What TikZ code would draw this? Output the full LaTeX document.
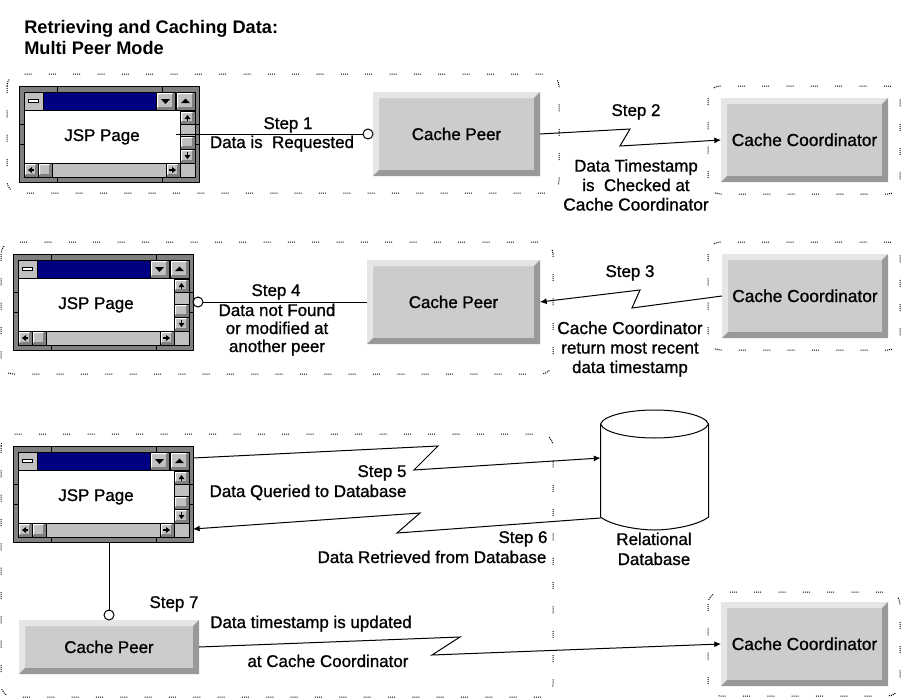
\documentclass[tikz,border=0pt]{standalone}
\usepackage{fontspec}
\setmainfont{Liberation Sans}
\newfontfamily\labfont{Liberation Sans}[FakeBold=1]
\usetikzlibrary{arrows.meta,calc}
\definecolor{winblue}{HTML}{000080}
\definecolor{wingray}{HTML}{C0C0C0}
\definecolor{windark}{HTML}{808080}
\definecolor{bvface}{HTML}{CCCCCC}
\definecolor{bvlight}{HTML}{E6E6E6}
\definecolor{bvdark}{HTML}{999999}
\newcommand{\ccname}{{\fontsize{13}{14.6}\selectfont Cache Coordinator}}
\tikzset{
  x=0.75pt,y=-0.75pt,
  lab/.style={font=\labfont\fontsize{12.7}{14.6}\selectfont,align=center,inner sep=0pt,outer sep=0pt},
  one/.style={lab,text height=9pt,text depth=0pt},
  region/.style={draw=black,line width=0.75pt,rounded corners=9pt,
    dash pattern=on .75pt off .75pt on .75pt off .75pt on .75pt off .75pt on .75pt off 13pt},
  conn/.style={draw=black,line width=0.75pt},
  arr/.style={conn,-{Latex[length=5pt,width=4.5pt]}},
  pin/.style={circle,draw=black,fill=white,line width=0.75pt,minimum size=7.5pt,inner sep=0pt,outer sep=0pt},
  winbox/.style={draw=black,fill=windark,line width=0.75pt,minimum width=135pt,minimum height=72pt,inner sep=0pt,outer sep=0pt},
  bevelnode/.style={one,inner sep=0pt,outer sep=0pt},
  thin1/.style={draw=black,line width=0.75pt},
}
\newcommand{\wbtn}[4]{%
  \fill[wingray] (#1,#2) rectangle (#3,#4);
  \fill[white] (#1,#2) -- (#3,#2) -- (#3-2,#2+2) -- (#1+2,#2+2) -- (#1+2,#4-2) -- (#1,#4) -- cycle;
  \fill[windark] (#3,#4) -- (#1,#4) -- (#1+2,#4-3) -- (#3-3,#4-3) -- (#3-3,#2+2) -- (#3,#2) -- cycle;
  \draw[thin1] (#1,#2) rectangle (#3,#4);
}
\newcommand{\jspwin}[3]{%
  \node[winbox,anchor=north west] (#1) at (#2,#3) {};
  \begin{scope}[shift={(#2,#3)}]
    \draw[thin1] (38,0) -- (38,6) (143,0) -- (143,6) (38,91) -- (38,96) (143,91) -- (143,96)
      (0,38) -- (5,38) (0,58) -- (5,58) (176,38) -- (180,38) (176,58) -- (180,58);
    \fill[wingray] (5,6) rectangle (176,91);
    \fill[winblue] (24,6) rectangle (137,24);
    \fill[white] (5,24) rectangle (161,77);
    \draw[thin1] (5,6) rectangle (176,91);
    \draw[thin1] (5,24) -- (161,24) (161,24) -- (161,91) (5,77) -- (176,77) (161,24) -- (176,24);
    \draw[thin1] (24,6) -- (24,24);
    \fill[white] (9,13) rectangle (19,16);
    \draw[line width=0.5pt,black] (9,13) rectangle (19,16);
    \wbtn{137}{6}{156}{24}
    \wbtn{157}{6}{176}{24}
    \fill (142,13) -- (151,13) -- (146.5,18) -- cycle;
    \fill (162,17) -- (171,17) -- (166.5,12.5) -- cycle;
    \wbtn{161}{25}{176}{38}
    \wbtn{161}{50}{176}{63}
    \wbtn{161}{63}{176}{77}
    \fill (165.5,33) -- (171.5,33) -- (168.5,29) -- cycle;
    \draw[line width=0.9pt] (168.5,31) -- (168.5,35);
    \fill (165.5,69) -- (171.5,69) -- (168.5,73) -- cycle;
    \draw[line width=0.9pt] (168.5,66) -- (168.5,71);
    \wbtn{5}{77}{19}{91}
    \wbtn{19}{77}{33}{91}
    \wbtn{147}{77}{161}{91}
    \fill (9,84) -- (13,81) -- (13,87) -- cycle;
    \draw[line width=0.9pt] (11,84) -- (15,84);
    \fill (157,84) -- (153,81) -- (153,87) -- cycle;
    \draw[line width=0.9pt] (150,84) -- (155,84);
    \node[one] (#1t) at (83,49) {JSP Page};
  \end{scope}
}
\newcommand{\bevelbox}[6]{%
  \fill[bvface] (#2,#3) rectangle (#4,#5);
  \fill[bvlight] (#2,#3) -- (#4,#3) -- (#4-6,#3+6) -- (#2+6,#3+6) -- (#2+6,#5-6) -- (#2,#5) -- cycle;
  \fill[bvdark] (#4,#5) -- (#2,#5) -- (#2+6,#5-6) -- (#4-6,#5-6) -- (#4-6,#3+6) -- (#4,#3) -- cycle;
  \pgfmathsetmacro{\bvw}{(#4-#2)*0.75}
  \pgfmathsetmacro{\bvh}{(#5-#3)*0.75}
  \node[bevelnode,minimum width=\bvw pt,minimum height=\bvh pt] (#1) at ({(#2+#4)/2},{(#3+#5)/2}) {#6};
}
\begin{document}
\begin{tikzpicture}
\useasboundingbox (0,0) rectangle (901,700);
% regions
\draw[region] (7,74) rectangle (559,193);
\draw[region] (708,86) rectangle (900,194);
\draw[region] (1,242) rectangle (553,374);
\draw[region] (708,242) rectangle (900,350);
\draw[region] (1,434) rectangle (553,697);
\draw[region] (708,592) rectangle (900,696);
% title
\node[anchor=west,align=left,inner sep=0pt,font=\bfseries\fontsize{13.65}{15.75}\selectfont] (title) at (24,37.5) {Retrieving and Caching Data:\\Multi Peer Mode};
% row 1
\jspwin{wa}{19}{86}
\bevelbox{pa}{373}{92}{540}{176}{Cache Peer}
\bevelbox{ca}{721}{98}{888}{182}{\ccname}
\node[pin] (pina) at (368,134) {};
\draw[conn] ([xshift=-17.25pt]wa.east) -- (pina);
\coordinate (b2a) at (630,129);
\coordinate (b2b) at (620,146);
\draw[arr] (pa.east) -- (b2a) -- (b2b) -- (ca.west);
\node[one] (s1) at (288,123) {Step 1};
\node[one] (d1) at (282,142) {Data is\ \ Requested};
\node[one] (s2) at (636,110) {Step 2};
\node[lab] (d2) at (636,185) {Data Timestamp\\is\ \ Checked at\\\ccname};
% row 2
\jspwin{wb}{13}{254}
\bevelbox{pb}{367}{260}{540}{344}{Cache Peer}
\bevelbox{cb}{722}{254}{888}{338}{\ccname}
\node[pin] (pinb) at (198,302) {};
\draw[conn] (pb.west) -- (pinb);
\coordinate (b3a) at (632,308);
\coordinate (b3b) at (640,290);
\draw[arr] (cb.west) -- (b3a) -- (b3b) -- (pb.east);
\node[one] (s3) at (630,271) {Step 3};
\node[lab] (d3) at (630,349) {\ccname\\return most recent\\data timestamp};
\node[one] (s4) at (276,290) {Step 4};
\node[one] (d4a) at (277,310) {Data not Found};
\node[one] (d4b) at (277,328) {or modified at};
\node[one] (d4c) at (277,346) {another peer};
% row 3
\jspwin{wc}{13}{446}
% cylinder
\coordinate (dbtl) at (600.5,424);
\coordinate (dbtr) at (708.5,424);
\coordinate (dbbl) at (600.5,517);
\coordinate (dbbr) at (708.5,517);
\draw[conn,fill=white] (dbtl) -- (dbbl) .. controls (612,526) and (640,530) .. (654.5,530) .. controls (669,530) and (697,526) .. (dbbr) -- (dbtr);
\draw[conn] (dbtl) .. controls (604,415) and (630,410) .. (654.5,410) .. controls (679,410) and (705,415) .. (dbtr) .. controls (705,433) and (679,438) .. (654.5,438) .. controls (630,438) and (604,433) .. (dbtl);
\node[one] (dba) at (654,539) {Relational};
\node[one] (dbb) at (654,559) {Database};
\coordinate (db5) at (600.5,458);
\coordinate (db6) at (600.5,518);
\coordinate (b5a) at (438,446);
\coordinate (b5b) at (414,470);
\coordinate (b6a) at (397,533);
\coordinate (b6b) at (420,513);
\draw[arr] (wc.east |- 0,458) -- (b5a) -- (b5b) -- (db5);
\draw[arr] (db6) -- (b6a) -- (b6b) -- (wc.east |- 0,529);
\node[one] (s5) at (382,471) {Step 5};
\node[one] (d5) at (308,491) {Data Queried to Database};
\node[one] (s6) at (523,537) {Step 6};
\node[one] (d6) at (432,557) {Data Retrieved from Database};
\bevelbox{pc}{19}{620}{199}{674}{Cache Peer}
\bevelbox{cc}{721}{602}{888}{686}{\ccname}
\node[pin] (pinc) at (109,615) {};
\draw[conn] (pinc.north |- wc.south) -- (pinc);
\coordinate (b7a) at (460,637);
\coordinate (b7b) at (432,655);
\draw[arr] (pc.east) -- (b7a) -- (b7b) -- (cc.west);
\node[one] (s7) at (174,602) {Step 7};
\node[one] (d7) at (311,622) {Data timestamp is updated};
\node[one] (d7b) at (328,661) {at Cache Coordinator};
\end{tikzpicture}
\end{document}
